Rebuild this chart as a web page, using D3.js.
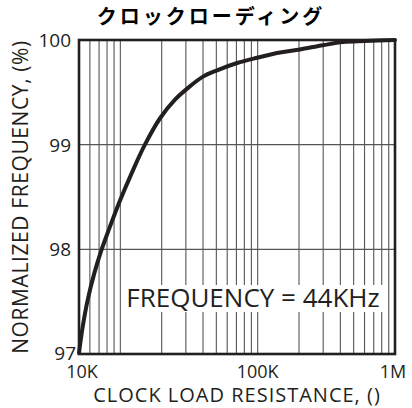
<!DOCTYPE html>
<html>
<head>
<meta charset="utf-8">
<script src="https://cdn.jsdelivr.net/npm/d3@7"></script>
<style>
  html, body { margin: 0; padding: 0; background: #fff; }
  svg { display: block; }
</style>
</head>
<body>
<svg id="chart" width="412" height="408"></svg>
<script>
// Clock load resistance (ohms) vs normalized frequency (%)
const resistance = [5000, 5320, 5790, 6460, 7230, 8310, 9830, 12300, 15100, 19400, 25000,
                    31600, 40000, 50600, 70800, 99000, 145500, 203500, 299000, 418500, 605500, 1000000];
const normFreq   = [97.01, 97.26, 97.52, 97.77, 97.98, 98.20, 98.45, 98.75, 99.00, 99.25, 99.43,
                    99.55, 99.65, 99.71, 99.78, 99.83, 99.88, 99.91, 99.95, 99.98, 99.99, 100];

const xDomain = [5000, 1000000];
const xTickValues = [5000, 100000, 1000000];
const xTickLabels = ["10K", "100K", "1M"];
const xGridValues = [6e3, 7e3, 8e3, 9e3, 1e4, 2e4, 3e4, 4e4, 5e4, 6e4, 7e4, 8e4, 9e4,
                     1e5, 2e5, 3e5, 4e5, 5e5, 6e5, 7e5, 8e5, 9e5];
const yDomain = [97, 100];
const yTickValues = [97, 98, 99, 100];
const yGridValues = [98, 99];

const titleText = "クロックローディング";
const xTitle = "CLOCK LOAD RESISTANCE, ()";
const yTitle = "NORMALIZED FREQUENCY, (%)";
const noteText = "FREQUENCY = 44KHz";

const ink = "#231f20";
const font = "'Open Sans', 'DejaVu Sans', sans-serif";

const plot = { left: 79, right: 395, top: 40, bottom: 354 };

const svg = d3.select("#chart");

const x = d3.scaleLog().domain(xDomain).range([plot.left, plot.right]);
const y = d3.scaleLinear().domain(yDomain).range([plot.bottom, plot.top]);

// vertical grid
svg.append("g")
  .selectAll("line")
  .data(xGridValues)
  .join("line")
  .attr("x1", d => x(d)).attr("x2", d => x(d))
  .attr("y1", plot.top).attr("y2", plot.bottom)
  .attr("stroke", "#555")
  .attr("stroke-width", 1.1);

// horizontal grid
svg.append("g")
  .selectAll("line")
  .data(yGridValues)
  .join("line")
  .attr("x1", plot.left).attr("x2", plot.right)
  .attr("y1", d => y(d)).attr("y2", d => y(d))
  .attr("stroke", "#555")
  .attr("stroke-width", 1.1);

// annotation box
svg.append("rect")
  .attr("x", 124).attr("y", 285)
  .attr("width", 262).attr("height", 27)
  .attr("fill", "#fff");
svg.append("text")
  .attr("x", 253).attr("y", 307)
  .attr("text-anchor", "middle")
  .attr("font-family", font)
  .attr("font-size", 26)
  .attr("fill", ink)
  .text(noteText);

// frame
svg.append("rect")
  .attr("x", plot.left).attr("y", plot.top)
  .attr("width", plot.right - plot.left).attr("height", plot.bottom - plot.top)
  .attr("fill", "none")
  .attr("stroke", ink)
  .attr("stroke-width", 2.6);

// curve
const line = d3.line()
  .x((d, i) => x(resistance[i]))
  .y(d => y(d))
  .curve(d3.curveCatmullRom.alpha(0.5));

svg.append("path")
  .datum(normFreq)
  .attr("d", line)
  .attr("fill", "none")
  .attr("stroke", ink)
  .attr("stroke-width", 4)
  .attr("stroke-linecap", "round");

// y tick labels
svg.append("g")
  .selectAll("text")
  .data(yTickValues)
  .join("text")
  .attr("x", d => d === 97 ? 76 : 71)
  .attr("y", d => y(d))
  .attr("dy", d => d === 97 ? "0.3em" : "0.36em")
  .attr("text-anchor", "end")
  .attr("font-family", font)
  .attr("font-size", 19)
  .attr("fill", ink)
  .text(d => d);

// x tick labels
svg.append("g")
  .selectAll("text")
  .data(xTickValues)
  .join("text")
  .attr("x", (d, i) => x(d) + (i === 0 ? 3 : i === 2 ? -2 : 0))
  .attr("y", 378)
  .attr("text-anchor", "middle")
  .attr("font-family", font)
  .attr("font-size", 18)
  .attr("fill", ink)
  .text((d, i) => xTickLabels[i]);

// axis titles
svg.append("text")
  .attr("x", 237).attr("y", 402)
  .attr("text-anchor", "middle")
  .attr("font-family", font)
  .attr("font-size", 20)
  .attr("letter-spacing", 1)
  .attr("fill", ink)
  .text(xTitle);

svg.append("text")
  .attr("transform", "translate(28,197) rotate(-90)")
  .attr("text-anchor", "middle")
  .attr("font-family", font)
  .attr("font-size", 21)
  .attr("letter-spacing", 0.6)
  .attr("fill", ink)
  .text(yTitle);

// title
svg.append("text")
  .attr("x", 211).attr("y", 24)
  .attr("text-anchor", "middle")
  .attr("font-family", "'Noto Sans CJK JP', sans-serif")
  .attr("font-weight", 700)
  .attr("font-size", 20)
  .attr("letter-spacing", 3)
  .attr("fill", "#000")
  .text(titleText);
</script>
</body>
</html>
